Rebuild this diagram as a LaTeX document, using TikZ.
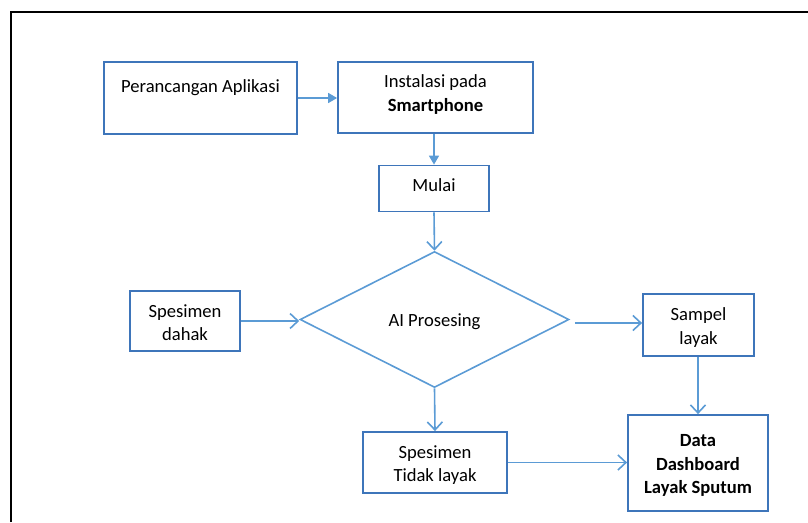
\documentclass[tikz,border=0pt]{standalone}
\usepackage{fontspec}
\setmainfont{Carlito}
\usetikzlibrary{shapes.geometric,arrows.meta,calc}

\definecolor{boxblue}{RGB}{62,117,186}
\definecolor{lineblue}{RGB}{91,155,213}

\begin{document}
\begin{tikzpicture}[x=1pt,y=-1pt,
  every node/.style={font=\fontsize{18.6}{23.5}\selectfont, align=center, text=black},
  stepbox/.style={draw=boxblue, line width=1.8pt, rectangle, inner sep=0pt},
  decision/.style={draw=lineblue, line width=1.6pt, diamond, aspect=2, inner sep=0pt},
  flow/.style={draw=lineblue, line width=1.6pt},
  solidtip/.style={flow, -{Triangle[length=9pt,width=10pt]}},
  opentip/.style={flow, -{Straight Barb[length=8pt,width=15pt,line width=1.6pt]}}
]
\useasboundingbox (0,0) rectangle (808,522);

% outer frame
\draw[black, line width=2pt] (11,522) -- (11,12) -- (808,12);

% boxes, each with its caption placed on the box centre
\node[stepbox, minimum width=193pt, minimum height=72pt,
      label={[yshift=10pt]center:Perancangan Aplikasi}] (pa) at (200.5,98) {};
\node[stepbox, minimum width=195pt, minimum height=71pt,
      label={[yshift=3pt]center:Instalasi pada\\\textbf{Smartphone}}] (inst) at (435.5,97.5) {};
\node[stepbox, minimum width=110pt, minimum height=46pt,
      label={[yshift=3pt]center:Mulai}] (mulai) at (434,188.5) {};
\node[decision, minimum width=269pt, minimum height=136pt,
      label={[yshift=-2pt]center:AI Prosesing}] (dia) at (434.5,319.5) {};
\node[stepbox, minimum width=110pt, minimum height=60pt,
      label={[yshift=-1.5pt]center:Spesimen\\dahak}] (dahak) at (185,321) {};
\node[stepbox, minimum width=111pt, minimum height=62pt,
      label={[yshift=-2.5pt]center:Sampel\\layak}] (sampel) at (698.5,325) {};
\node[stepbox, minimum width=144pt, minimum height=61pt,
      label={[yshift=-2.5pt]center:Spesimen\\Tidak layak}] (tidak) at (435,462.5) {};
\node[stepbox, minimum width=140pt, minimum height=96pt,
      label={[yshift=-2.5pt]center:\textbf{Data}\\\textbf{Dashboard}\\\textbf{Layak Sputum}}] (data) at (698,463) {};

% connectors
\draw[solidtip] (pa.east) -- (pa.east -| inst.west);
\draw[solidtip] (mulai.north |- inst.south) -- (mulai.north);
\draw[opentip] (mulai.south) -- (dia.north);
\draw[opentip] (dahak.east) -- (dahak.east -| dia.west);
\draw[opentip] ($(dia.east |- 0,323)+(5,0)$) -- (sampel.west |- 0,323);
\draw[opentip] (sampel.south -| data.north) -- (data.north);
\draw[opentip] (dia.south) -- (tidak.north);
\draw[opentip] (tidak.east) -- (tidak.east -| data.west);
\end{tikzpicture}
\end{document}
